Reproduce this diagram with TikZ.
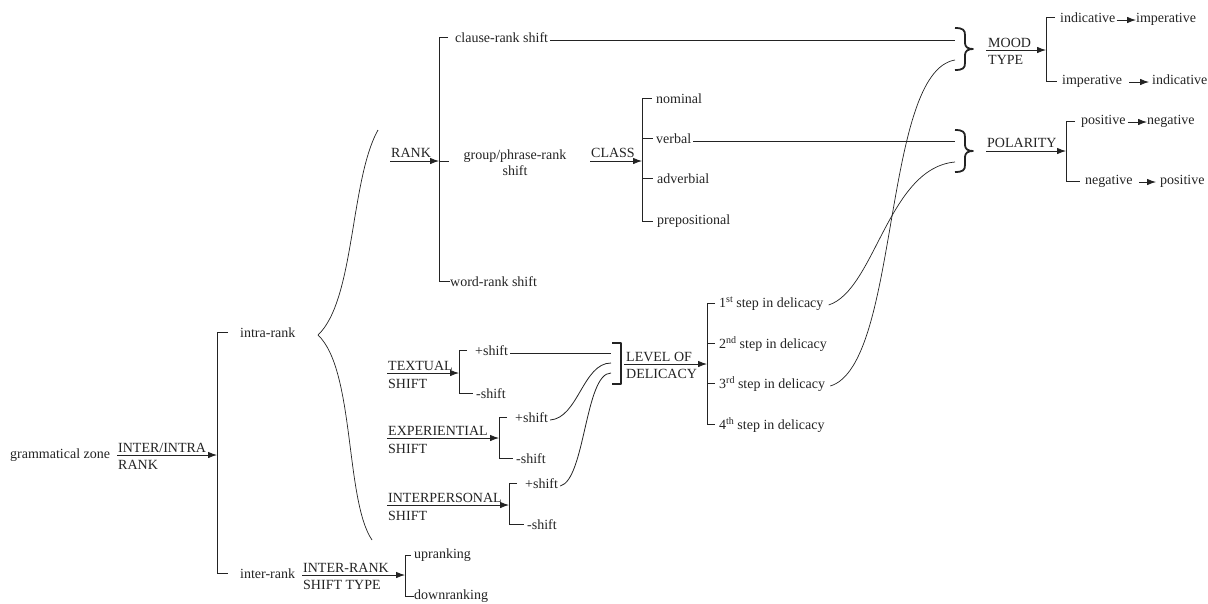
\documentclass[tikz,border=0pt]{standalone}
\usepackage{fontspec}
\setmainfont{Liberation Serif}
\usetikzlibrary{arrows.meta,calc}
\definecolor{ink}{RGB}{35,35,35}
\newcommand\supx[1]{\raisebox{5pt}{\fontsize{10}{10}\selectfont #1}}
\begin{document}
\begin{tikzpicture}[x=1pt,y=-1pt,
  every node/.style={font=\fontsize{14}{16}\selectfont, text=ink, inner sep=0pt},
  lbl/.style={anchor=mid west},
  toplbl/.style={anchor=base west},
  ln/.style={draw=ink, line width=0.8pt},
  arr/.style={ln, -{Latex[length=9pt,width=6.5pt]}},
  bbr/.style={draw=ink, line width=1.8pt, line join=round},
  rbr/.pic={\draw[bbr] (0,0) .. controls (8,0) and (10,2) .. (10,7) -- (10,15) .. controls (10,19) and (13,21) .. (18,21) .. controls (13,21) and (10,23) .. (10,27) -- (10,35) .. controls (10,40) and (8,42) .. (0,42);}
]
\useasboundingbox (0,0) rectangle (1208,603);

% ---------- root ----------
\node[lbl] (gz) at (10,456) {grammatical zone};
\coordinate (a1s) at (117,455);
\coordinate (a1e) at (217,455);
\draw[arr] (a1s) -- (a1e);
\node[toplbl] (a1t) at (118,452) {INTER/INTRA};
\node[toplbl] (a1b) at (118,469) {RANK};
\node[lbl] (intra) at (240,335) {intra-rank};
\node[lbl] (inter) at (240,576) {inter-rank};
\draw[ln] ([xshift=-12pt]intra.west) -- (intra.west -| a1e) -- (inter.west -| a1e) -- ([xshift=-12pt]inter.west);

% ---------- inter-rank ----------
\coordinate (a2s) at (302,575);
\coordinate (a2e) at (405,575);
\draw[arr] (a2s) -- (a2e);
\node[toplbl] (a2t) at (303,572) {INTER-RANK};
\node[toplbl] (a2b) at (303,589) {SHIFT TYPE};
\node[lbl] (up) at (414,556) {upranking};
\node[lbl] (down) at (414,597) {downranking};
\draw[ln] ([xshift=-3pt]up.west) -- (up.west -| a2e) -- (down.west -| a2e) -- (down.west);

% ---------- big brace ----------
\draw[draw=ink, line width=0.7pt] (378,130) .. controls (350,180) and (355,300) .. (318,335) .. controls (355,370) and (345,500) .. (372,540);

% ---------- RANK ----------
\coordinate (r0) at (390,161);
\coordinate (r1) at (439,161);
\draw[arr] (r0) -- (r1);
\node[toplbl] (rk) at (391,157) {RANK};
\node[lbl] (clause) at (455,40) {clause-rank shift};
\node[align=center] (group) at (515,163) {group/phrase-rank\\shift};
\node[lbl] (word) at (450,284) {word-rank shift};
\draw[ln] ([xshift=-7pt]clause.west) -- (clause.west -| r1) -- (word.west -| r1) -- (word.west);
\draw[ln] (r1) -- ++(10,0);

% ---------- CLASS ----------
\coordinate (c0) at (590,161);
\coordinate (c1) at (642,161);
\draw[arr] (c0) -- (c1);
\node[toplbl] (cl) at (591,157) {CLASS};
\node[lbl] (nom) at (656,101) {nominal};
\node[lbl] (verb) at (656,141) {verbal};
\node[lbl] (adv) at (657,181) {adverbial};
\node[lbl] (prep) at (657,222) {prepositional};
\draw[ln] ([xshift=-4pt]nom.west) -- (nom.west -| c1) -- (prep.west -| c1) -- ([xshift=-4pt]prep.west);
\draw[ln] (verb.west -| c1) -- ([xshift=-3pt]verb.west);
\draw[ln] (adv.west -| c1) -- ([xshift=-4pt]adv.west);

% ---------- braces ----------
\pic at (955,28) {rbr};
\pic at (955,130) {rbr};
\coordinate (moodIn1) at (955,40);
\coordinate (moodIn2) at (955,60);
\coordinate (polIn1) at (955,141);
\coordinate (polIn2) at (955,162);
\draw[ln] ([xshift=2pt]clause.mid east) -- (moodIn1);
\draw[ln] ([xshift=2pt]verb.mid east) -- (polIn1);

% ---------- MOOD TYPE ----------
\coordinate (m0) at (986,50);
\coordinate (m1) at (1046,50);
\draw[arr] (m0) -- (m1);
\node[toplbl] (md) at (988,47) {MOOD};
\node[toplbl] (ty) at (988,64) {TYPE};
\node[lbl] (ind1) at (1060,20) {indicative};
\node[lbl] (imp1) at (1136,20) {imperative};
\node[lbl] (imp2) at (1062,82) {imperative};
\node[lbl] (ind2) at (1152,82) {indicative};
\draw[ln] ([xshift=-5pt]ind1.west) -- (ind1.west -| m1) -- (imp2.west -| m1) -- ([xshift=-5pt]imp2.west);
\draw[arr] ([xshift=1pt]ind1.mid east) -- (imp1.mid west);
\draw[arr] ([xshift=7pt]imp2.mid east) -- ([xshift=-3pt]ind2.mid west);

% ---------- POLARITY ----------
\coordinate (p0) at (986,151);
\coordinate (p1) at (1066,151);
\draw[arr] (p0) -- (p1);
\node[toplbl] (pol) at (987,147) {POLARITY};
\node[lbl] (pos1) at (1081,122) {positive};
\node[lbl] (neg1) at (1147,122) {negative};
\node[lbl] (neg2) at (1085,182) {negative};
\node[lbl] (pos2) at (1160,182) {positive};
\draw[ln] ([xshift=-6pt]pos1.west) -- (pos1.west -| p1) -- (neg2.west -| p1) -- ([xshift=-5pt]neg2.west);
\draw[arr] ([xshift=2pt]pos1.mid east) -- (neg1.mid west);
\draw[arr] ([xshift=6pt]neg2.mid east) -- ([xshift=-4pt]pos2.mid west);

% ---------- TEXTUAL ----------
\coordinate (t0) at (387,373);
\coordinate (t1) at (459,373);
\draw[arr] (t0) -- (t1);
\node[toplbl] (tx1) at (388,370) {TEXTUAL};
\node[toplbl] (tx2) at (388,388) {SHIFT};
\node[lbl] (tp) at (475,353) {+shift};
\node[lbl] (tm) at (476,396) {-shift};
\draw[ln] ([xshift=-8pt]tp.west) -- (tp.west -| t1) -- (tm.west -| t1) -- ([xshift=-3pt]tm.west);

% ---------- EXPERIENTIAL ----------
\coordinate (e0) at (387,438);
\coordinate (e1) at (499,438);
\draw[arr] (e0) -- (e1);
\node[toplbl] (ex1) at (388,435) {EXPERIENTIAL};
\node[toplbl] (ex2) at (388,453) {SHIFT};
\node[lbl] (ep) at (515,420) {+shift};
\node[lbl] (em) at (516,461) {-shift};
\draw[ln] ([xshift=-8pt]ep.west) -- (ep.west -| e1) -- (em.west -| e1) -- ([xshift=-3pt]em.west);

% ---------- INTERPERSONAL ----------
\coordinate (i0) at (387,505);
\coordinate (i1) at (509,505);
\draw[arr] (i0) -- (i1);
\node[toplbl] (ip1) at (388,502) {INTERPERSONAL};
\node[toplbl] (ip2) at (388,520) {SHIFT};
\node[lbl] (ip) at (525,486) {+shift};
\node[lbl] (im) at (527,527) {-shift};
\draw[ln] ([xshift=-8pt]ip.west) -- (ip.west -| i1) -- (im.west -| i1) -- ([xshift=-3pt]im.west);

% ---------- LEVEL OF DELICACY ----------
\draw[bbr] (612,343) -- (621,343) -- (621,384) -- (612,384);
\coordinate (dIn1) at (611,353);
\coordinate (dIn2) at (611,363);
\coordinate (dIn3) at (611,373);
\draw[ln] ([xshift=2pt]tp.mid east) -- (dIn1);
\draw[ln] ([xshift=2pt]ep.mid east) .. controls +(28,-2) and +(-28,0) .. (dIn2);
\draw[ln] ([xshift=2pt]ip.mid east) .. controls +(25,-6) and +(-26,0) .. (dIn3);

\coordinate (l0) at (624,364);
\coordinate (l1) at (707,364);
\draw[arr] (l0) -- (l1);
\node[toplbl] (lv1) at (626,361) {LEVEL OF};
\node[toplbl] (lv2) at (626,378) {DELICACY};
\node[lbl] (d1) at (719,305) {1\supx{st} step in delicacy};
\node[lbl] (d2) at (719,346) {2\supx{nd} step in delicacy};
\node[lbl] (d3) at (719,386) {3\supx{rd} step in delicacy};
\node[lbl] (d4) at (719,427) {4\supx{th} step in delicacy};
\draw[ln] ([xshift=-4pt]d1.west) -- (d1.west -| l1) -- (d4.west -| l1) -- ([xshift=-4pt]d4.west);
\draw[ln] (d2.west -| l1) -- ([xshift=-4pt]d2.west);
\draw[ln] (d3.west -| l1) -- ([xshift=-4pt]d3.west);

% ---------- crossing curves ----------
\draw[ln, line width=0.7pt] ([xshift=5pt]d1.mid east) .. controls (875,290) and (888,168) .. (polIn2);
\draw[ln, line width=0.7pt] ([xshift=5pt]d3.mid east) .. controls (900,365) and (882,72) .. (moodIn2);
\end{tikzpicture}
\end{document}
